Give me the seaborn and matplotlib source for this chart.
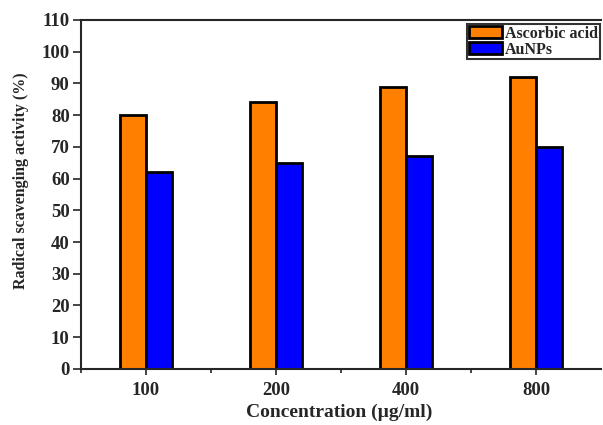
import pandas as pd
import matplotlib.pyplot as plt
import seaborn as sns
from matplotlib.ticker import MultipleLocator, FixedLocator

# Donnees
concentrations = ["100", "200", "400", "800"]
ascorbic = [80, 84, 89, 92]
aunps = [62, 65, 67, 70]

df = pd.DataFrame({
    "Concentration": concentrations * 2,
    "Activite": ascorbic + aunps,
    "Echantillon": ["Ascorbic acid"] * 4 + ["AuNPs"] * 4,
})

sns.set_style("ticks")
plt.rcParams["font.family"] = ["Liberation Serif", "DejaVu Serif"]
plt.rcParams["font.weight"] = "bold"

fig = plt.figure(figsize=(6.03, 4.25), dpi=100)
ax = fig.add_axes([0.134, 0.132, 0.863, 0.821])

sns.barplot(data=df, x="Concentration", y="Activite", hue="Echantillon",
            palette=["#ff7f00", "#0000ff"], saturation=1, width=0.4,
            edgecolor="black", linewidth=2, ax=ax)

ax.set_xlim(-0.5, 3.5)
ax.set_ylim(0, 110)
ax.yaxis.set_major_locator(MultipleLocator(10))
ax.xaxis.set_minor_locator(FixedLocator([-0.5, 0.5, 1.5, 2.5]))
ax.tick_params(axis="both", which="major", direction="out", width=1.2,
               labelsize=13.5)
ax.tick_params(axis="y", which="major", length=6, pad=2)
ax.tick_params(axis="x", which="major", length=4.5, pad=5)
ax.tick_params(axis="x", which="minor", direction="out", length=3, width=1.2)
for lab in ax.get_xticklabels() + ax.get_yticklabels():
    lab.set_fontweight("bold")

ax.spines["right"].set_visible(False)
for s in ["left", "bottom", "top"]:
    ax.spines[s].set_linewidth(1.5)

ax.set_xlabel("Concentration (µg/ml)", fontsize=14, fontweight="bold")
ax.xaxis.set_label_coords(0.497, -0.1)
ax.set_ylabel("Radical scavenging activity (%)", fontsize=11.5, fontweight="bold")
ax.yaxis.set_label_coords(-0.10, 0.539)

leg = ax.legend(loc="upper right", bbox_to_anchor=(1.0, 0.994), fontsize=11.5,
                frameon=True, fancybox=False, edgecolor="black",
                handlelength=2.1, handleheight=0.75, handletextpad=0.15,
                borderpad=0.12, labelspacing=0.0, borderaxespad=0.1)
leg.get_frame().set_linewidth(1.5)
for t in leg.get_texts():
    t.set_fontweight("bold")

fig.savefig("out.png", dpi=100)
